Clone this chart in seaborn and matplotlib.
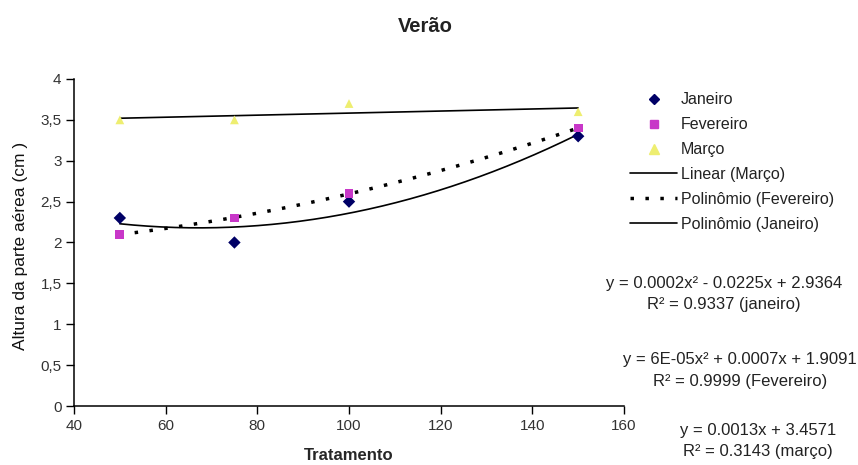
import numpy as np
import pandas as pd
import matplotlib
matplotlib.use('Agg')
import matplotlib.pyplot as plt
import seaborn as sns
from matplotlib.ticker import FuncFormatter
from matplotlib.lines import Line2D

sns.set_style("white")
plt.rcParams['font.family'] = ['Liberation Sans', 'DejaVu Sans']

# Data
tratamento = [50, 75, 100, 150]
janeiro = [2.3, 2.0, 2.5, 3.3]
fevereiro = [2.1, 2.3, 2.6, 3.4]
marco = [3.5, 3.5, 3.7, 3.6]

meses = ['Janeiro', 'Fevereiro', 'Março']
trend_labels = ['Linear (Março)', 'Polinômio (Fevereiro)', 'Polinômio (Janeiro)']
equations = [
    ("y = 0.0002x² - 0.0225x + 2.9364", "R² = 0.9337 (janeiro)"),
    ("y = 6E-05x² + 0.0007x + 1.9091", "R² = 0.9999 (Fevereiro)"),
    ("y = 0.0013x + 3.4571", "R² = 0.3143 (março)"),
]

df = pd.DataFrame({
    'Tratamento': tratamento * 3,
    'Altura': janeiro + fevereiro + marco,
    'Mes': ['Janeiro'] * 4 + ['Fevereiro'] * 4 + ['Março'] * 4,
})

colors = {'Janeiro': '#000066', 'Fevereiro': '#c837c8', 'Março': '#eeee70'}
markers = {'Janeiro': 'D', 'Fevereiro': 's', 'Março': '^'}
dotted = (0, (1, 3.3))

fig = plt.figure(figsize=(8.58, 4.65), dpi=100)
ax = fig.add_axes([74 / 858, 1 - 406 / 465, 550 / 858, 327 / 465])

sns.scatterplot(data=df, x='Tratamento', y='Altura', hue='Mes', style='Mes',
                palette=colors, markers=markers, s=40, edgecolor='none',
                legend=False, ax=ax, zorder=3)

# trendlines (least squares, as in the spreadsheet)
x = np.array(tratamento)
xs = np.linspace(50, 150, 200)
lin_m = np.polyfit(x, marco, 1)
pol_f = np.polyfit(x, fevereiro, 2)
pol_j = np.polyfit(x, janeiro, 2)
ax.plot(xs, np.polyval(lin_m, xs), color='black', lw=1.2, zorder=2)
ax.plot(xs, np.polyval(pol_f, xs), color='black', lw=2.5, linestyle=dotted,
        dash_capstyle='butt', zorder=2)
ax.plot(xs, np.polyval(pol_j, xs), color='black', lw=1.2, zorder=2)

ax.set_xlim(40, 160)
ax.set_ylim(0, 4)
ax.set_xticks(range(40, 161, 20))
ax.set_yticks(np.arange(0, 4.01, 0.5))
ax.yaxis.set_major_formatter(FuncFormatter(lambda v, p: f"{v:g}".replace('.', ',')))
ax.tick_params(axis='both', direction='out', length=6, width=1, labelsize=11,
               labelcolor='#333333', color='black', bottom=True, left=True, pad=3)
for side in ['top', 'right']:
    ax.spines[side].set_visible(False)
for side in ['left', 'bottom']:
    ax.spines[side].set_color('black')
    ax.spines[side].set_linewidth(1.1)

ax.set_xlabel('Tratamento', fontsize=12, fontweight='bold')
ax.xaxis.set_label_coords(0.5, -0.128)
ax.set_ylabel('Altura da parte aérea (cm )', fontsize=12.5, color='#111111')
ax.yaxis.set_label_coords(-0.098, 0.49)
ax.yaxis.label.set_va('center')

fig.text(425 / 858, 1 - 27 / 465, 'Verão', ha='center', va='center',
         fontsize=14.5, fontweight='bold', color='#222222')

handles = [
    Line2D([], [], marker='D', color=colors['Janeiro'], ls='none', ms=5),
    Line2D([], [], marker='s', color=colors['Fevereiro'], ls='none', ms=5.5),
    Line2D([], [], marker='^', color=colors['Março'], ls='none', ms=6.5),
    Line2D([], [], color='black', lw=1.2),
    Line2D([], [], color='black', lw=2.5, linestyle=dotted, dash_capstyle='butt'),
    Line2D([], [], color='black', lw=1.2),
]
fig.legend(handles, meses + trend_labels, loc='upper left',
           bbox_to_anchor=(616 / 858, 1 - 78 / 465), frameon=False, fontsize=11.5,
           handlelength=2.9, handletextpad=0.25, labelspacing=0.62, borderpad=0.4,
           labelcolor='#222222')

centers = [724, 740, 758]
rows = [(283, 305), (359, 381), (430, 451)]
for (eq, r2), cx, (y1, y2) in zip(equations, centers, rows):
    fig.text(cx / 858, 1 - y1 / 465, eq, ha='center', va='center', fontsize=12, color='#222222')
    fig.text(cx / 858, 1 - y2 / 465, r2, ha='center', va='center', fontsize=12, color='#222222')

fig.savefig('out.png', dpi=100)
